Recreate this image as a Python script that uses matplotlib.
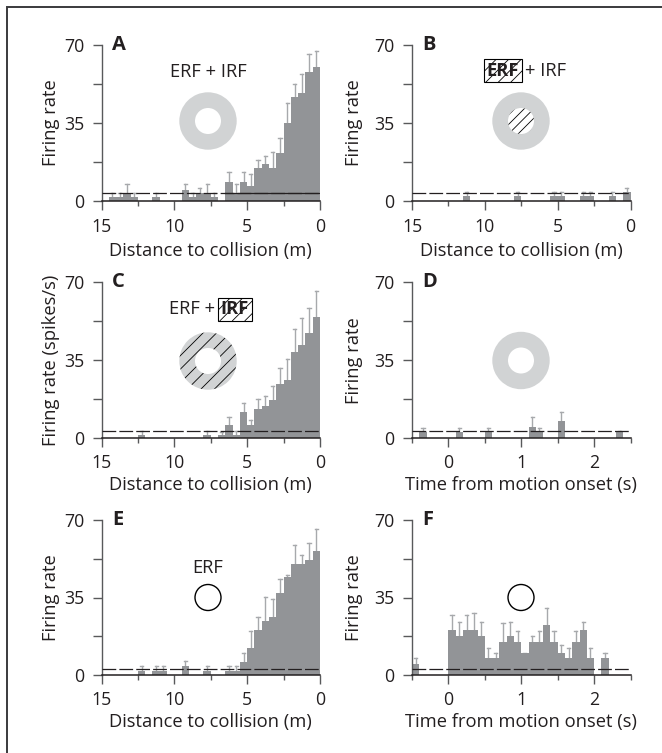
#!/usr/bin/python3
import matplotlib
matplotlib.use("Agg")
import matplotlib.pyplot as plt
from matplotlib.patches import Circle, Wedge, Rectangle
import numpy as np

plt.rcParams['font.family'] = ['Open Sans', 'DejaVu Sans']

W, H = 662, 753
BAR = '#929497'
ERR = '#a7a9ac'
AXC = '#58595b'
RING = '#d1d3d4'
TXT = '#231f20'
FS = 13.2

# distance bins, lower edge in m
dist_a = [0, .5, 1, 1.5, 2, 2.5, 3, 3.5, 4, 4.5, 5, 5.5, 6, 7, 7.5, 8, 8.5, 9, 11, 12.5, 13, 13.5, 14]
rate_a = [60, 58, 48.4, 46.6, 35, 21.7, 15, 16.7, 15, 6.9, 8.5, 3.4, 8.5, 1.8, 3.4, 3.4, 1.7, 5.1, 1.7, 1.7, 3.4, 1.7, 1.7]
top_a = [67.4, 65.8, 56.8, 52.3, 43.8, 28.4, 21.8, 20.3, 18.5, 12.3, 12.9, 7.5, 12.9, 3.4, 7.5, 5.7, 3.4, 7.5, 3.4, 3.4, 7.5, 3.4, 3.4]

dist_b = [0, 1, 2.5, 3, 4.5, 5, 7.5, 11]
rate_b = [3.9, 2.3, 2.3, 2.3, 2.3, 2.3, 2.3, 2.3]
top_b = [6, 3.9, 3.9, 3.9, 3.9, 3.9, 3.9, 3.9]

dist_c = [0, .5, 1, 1.5, 2, 2.5, 3, 3.5, 4, 4.5, 5, 5.5, 6, 6.5, 7.5, 12]
rate_c = [54.3, 47.2, 42, 38.7, 26, 24.3, 17, 14.5, 13, 5.8, 11.6, 1.5, 5.8, 1.5, 1.5, 1.5]
top_c = [66, 58.2, 53.7, 49, 35.4, 31.6, 23.4, 18.8, 17.5, 8, 16, 3.4, 9.4, 3, 3.4, 3.4]

dist_e = [0, .5, 1, 1.5, 2, 2.5, 3, 3.5, 4, 4.5, 5, 5.5, 6, 7.5, 9, 10.5, 11, 12]
rate_e = [56, 52, 50.2, 50.2, 44.2, 37.2, 26.2, 24.3, 20.2, 12.1, 6.1, 2.1, 2.1, 2.1, 4.3, 2.1, 2.1, 2.1]
top_e = [65.7, 59.7, 54, 58.5, 45, 43.5, 34.2, 35.2, 26.4, 20, 9.9, 4, 4, 4, 6.3, 4, 4, 4]

# time bins, lower edge in s
time_d = [-.4, .1, .5, 1.1, 1.2, 1.5, 2.3]
rate_d = [3, 3, 3, 5, 3, 7.6, 3]
top_d = [4.8, 4.8, 4.8, 9.5, 4.8, 11.8, 3.4]

time_f = [-.5, 0, .1, .2, .3, .4, .5, .6, .7, .8, .9, 1, 1.1, 1.2, 1.3, 1.4, 1.5, 1.6, 1.7, 1.8, 1.9, 2.1]
rate_f = [5, 20.2, 17.7, 20.2, 20.2, 17.7, 7.6, 7.6, 15.1, 17.7, 15.1, 10, 15.1, 15.1, 22.6, 15.1, 10, 7.6, 15.1, 20.2, 7.6, 7.6]
top_f = [7.6, 27, 23.9, 27, 28.2, 23.9, 12.1, 9.9, 23.7, 23.9, 20, 10, 17.8, 20, 30.1, 20, 13.8, 12.1, 20, 24.1, 12.1, 9.9]

y_ticks = [0, 35, 70]
y_minor = [17.5, 52.5]
dist_ticks = [15, 10, 5, 0]
dist_minor = [12.5, 7.5, 2.5]
time_ticks = [0, 1, 2]
time_minor = [-.5, .5, 1.5, 2.5]


def make_ax(x0, x1, y70, y0):
    return fig.add_axes([x0 / W, 1 - y0 / H, (x1 - x0) / W, (y0 - y70) / H])


def draw_panel(ax, edges, rate, top, width, base, letter, xlabel, ylabel, lab_x, tick_pad, lab_pad):
    ax.bar(edges, rate, width=width, align='edge', color=BAR, lw=0, zorder=2)
    for e, r, t in zip(edges, rate, top):
        c = e + width / 2
        ax.plot([c, c], [r, t], color=ERR, lw=1, zorder=1)
        ax.plot([c - width * .22, c + width * .22], [t, t], color=ERR, lw=1, zorder=1)
    ax.plot(ax.get_xlim(), [base, base], color='#231f20', lw=.9, dashes=(11, 2.5), zorder=3)
    ax.set_ylim(0, 70)
    ax.set_yticks(y_ticks)
    ax.set_yticks(y_minor, minor=True)
    ax.spines['top'].set_visible(False)
    ax.spines['right'].set_visible(False)
    ax.spines['left'].set_color(AXC)
    ax.spines['left'].set_linewidth(1)
    ax.spines['bottom'].set_color('#231f20')
    ax.spines['bottom'].set_linewidth(1.1)
    ax.tick_params(which='both', color=AXC, width=1, labelcolor=TXT, labelsize=12.8)
    ax.tick_params(axis='y', which='both', length=6.5, pad=6)
    ax.tick_params(axis='x', which='major', length=6.5, pad=tick_pad)
    ax.tick_params(axis='x', which='minor', length=3.6)
    ax.set_xlabel(xlabel, fontsize=FS, color=TXT, labelpad=lab_pad)
    ax.set_ylabel(ylabel, fontsize=FS, color=TXT)
    ax.yaxis.set_label_coords(lab_x, .5)
    ax.patch.set_alpha(0)
    ax.text(.048, 1.0, letter, transform=ax.transAxes, fontsize=14.5, fontweight='bold',
            color=TXT, va='center', ha='left')


fig = plt.figure(figsize=(W / 100, H / 100), dpi=100)

dist_label = "Distance to collision (m)"
time_label = "Time from motion onset (s)"

panels = [
    (101.5, 320, 45, 201, dist_a, rate_a, top_a, 3.4, 'A', dist_label, 'Firing rate', 6, 4),
    (412, 630.5, 45, 201, dist_b, rate_b, top_b, 3.4, 'B', dist_label, 'Firing rate', 6, 4),
    (101.5, 320, 282, 438.3, dist_c, rate_c, top_c, 3.4, 'C', dist_label, 'Firing rate (spikes/s)', 4.5, 3.5),
    (412, 630.5, 282, 438.3, time_d, rate_d, top_d, 3.4, 'D', time_label, 'Firing rate', 4.5, 3.5),
    (101.5, 320, 519.7, 675.3, dist_e, rate_e, top_e, 2.7, 'E', dist_label, 'Firing rate', 4.5, 3.2),
    (412, 630.5, 519.7, 675.3, time_f, rate_f, top_f, 2.7, 'F', time_label, 'Firing rate', 4.5, 3.2),
]

axes = {}
for x0, x1, yt, yb, edges, rate, top, base, letter, xl, yl, tp, lp in panels:
    ax = make_ax(x0, x1, yt, yb)
    if letter in 'DF':
        ax.set_xlim(-.5, 2.5)
        ax.set_xticks(time_ticks)
        ax.set_xticks(time_minor, minor=True)
        w = .1
    else:
        ax.set_xlim(15, 0)
        ax.set_xticks(dist_ticks)
        ax.set_xticks(dist_minor, minor=True)
        w = .5
    lab_x = -.19 if letter in 'ACE' else -.222
    draw_panel(ax, edges, rate, top, w, base, letter, xl, yl, lab_x, tp, lp)
    axes[letter] = ax

# solid part of the baseline in A
axes['A'].plot([6.5, 0], [3.4, 3.4], color='#231f20', lw=.9, zorder=3)

# overlay in pixel coordinates for the stimulus sketches and the frame
ov = fig.add_axes([0, 0, 1, 1], zorder=5)
ov.set_xlim(0, W)
ov.set_ylim(H, 0)
ov.axis('off')
ov.patch.set_alpha(0)

ov.plot([6.7, 6.7, W], [H, 6.7, 6.7], color='#3a3a3c', lw=1.4, solid_joinstyle='miter')


def hatch(clip, x0, x1, y0, y1, step):
    # diagonal strokes, clipped to the given patch
    d = y1 - y0
    for s in np.arange(x0 - d, x1 + d, step):
        ln, = ov.plot([s, s + d], [y1, y0], color='k', lw=.6)
        ln.set_clip_path(clip)


def ring(cx, cy, striped=None):
    w = Wedge((cx, cy), 28.7, 0, 360, width=15.7, fc=RING, ec='none')
    ov.add_patch(w)
    if striped == 'outer':
        hatch(w, cx - 30, cx + 30, cy - 30, cy + 30, 13.5)
    if striped == 'inner':
        c = Circle((cx, cy), 13, fc='none', ec='none')
        ov.add_patch(c)
        hatch(c, cx - 14, cx + 14, cy - 14, cy + 14, 9.5)


def boxed(text, x0, y0, x1, y1):
    r = Rectangle((x0, y0), x1 - x0, y1 - y0, fc='white', ec='k', lw=.8)
    ov.add_patch(r)
    hatch(r, x0, x1, y0, y1, 12.5)
    ov.text((x0 + x1) / 2, (y0 + y1) / 2, text, fontsize=FS, fontweight='bold', color=TXT,
            ha='center', va='center')


ring(208, 121)
ring(521, 121, 'inner')
ring(208, 361, 'outer')
ring(521, 360.5)
ov.add_patch(Circle((208, 597.5), 13, fc='white', ec='k', lw=1))
ov.add_patch(Circle((521, 597.5), 13, fc='white', ec='k', lw=1))

ov.text(208, 71.5, "ERF + IRF", fontsize=FS, color=TXT, ha='center', va='center')
boxed("ERF", 483.7, 59.3, 521.7, 82.3)
ov.text(546, 71, "+ IRF", fontsize=FS, color=TXT, ha='center', va='center')
ov.text(192, 309, "ERF +", fontsize=FS, color=TXT, ha='center', va='center')
boxed("IRF", 218, 297.7, 252, 320.7)
ov.text(208, 568, "ERF", fontsize=FS, color=TXT, ha='center', va='center')

fig.savefig('out.png', dpi=100, facecolor='white')
